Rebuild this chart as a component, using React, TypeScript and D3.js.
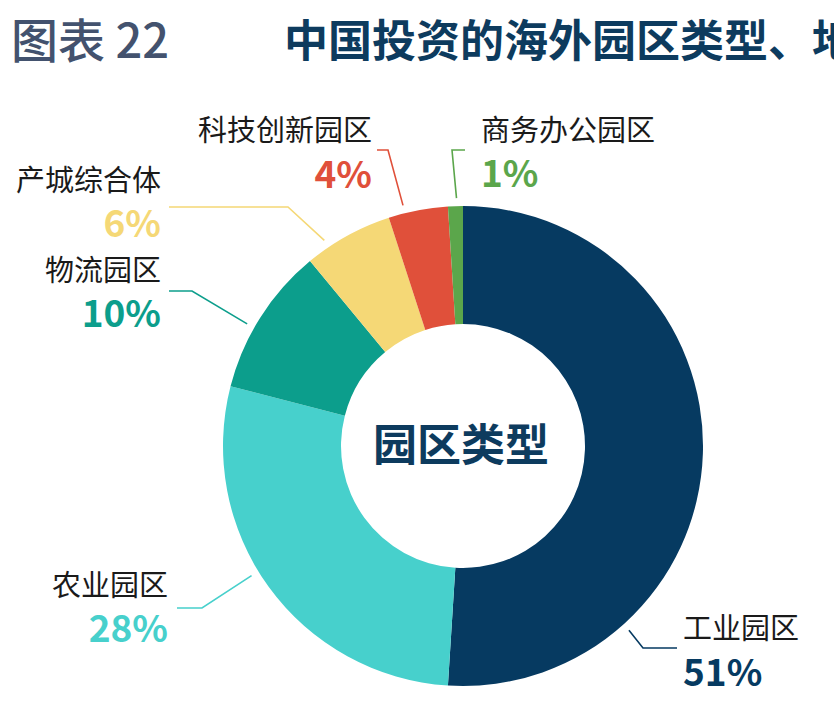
import React, { useRef, useEffect } from 'react';
import * as d3 from 'd3';

// 园区类型占比（%）
const categories = ['工业园区', '农业园区', '物流园区', '产城综合体', '科技创新园区', '商务办公园区'];
const shares = [51, 28, 10, 6, 4, 1];
const colors = ['#063a61', '#47d0cc', '#0c9e8c', '#f5d876', '#e0503a', '#5ba64b'];

// 标注布局：引线起点角度（度，顺时针自正上方），拐点，文字锚点
const labelLayout = [
  { angle: 138, elbow: [643, 648], end: [677, 648], x: 683, anchor: 'start', nameY: 639, valueY: 686 },
  { angle: 238.5, elbow: [202, 608], end: [177, 608], x: 168, anchor: 'end', nameY: 596, valueY: 642 },
  { angle: 299.5, elbow: [192, 291], end: [169, 291], x: 161, anchor: 'end', nameY: 281, valueY: 327 },
  { angle: 326, elbow: [288, 207], end: [169, 207], x: 161, anchor: 'end', nameY: 191, valueY: 237 },
  { angle: 346, elbow: [388, 150], end: [377, 150], x: 372, anchor: 'end', nameY: 141, valueY: 188 },
  { angle: 358.5, elbow: [452, 150], end: [465, 150], x: 481, anchor: 'start', nameY: 141, valueY: 187 },
];

const W = 834;
const H = 715;
const cx = 463;
const cy = 446;
const outerR = 240;
const innerR = 122;
const cjk = '"Noto Sans CJK SC", "Noto Sans", sans-serif';

export default function App() {
  const svgRef = useRef<SVGSVGElement>(null);

  useEffect(() => {
    if (!svgRef.current) return;
    const svg = d3.select(svgRef.current);
    svg.selectAll('*').remove();

    svg.append('rect').attr('width', W).attr('height', H).attr('fill', '#fff');

    // 标题
    svg.append('text')
      .attr('x', 11).attr('y', 58)
      .attr('font-family', cjk).attr('font-size', 47).attr('font-weight', 500)
      .attr('fill', '#43526e')
      .text('图表 22');
    svg.append('text')
      .attr('x', 284).attr('y', 57)
      .attr('font-family', cjk).attr('font-size', 44).attr('font-weight', 700)
      .attr('fill', '#0d3b5e')
      .text('中国投资的海外园区类型、地区分布');

    const data = categories.map((name, i) => ({ name, value: shares[i], color: colors[i] }));
    const pie = d3.pie<typeof data[number]>().sort(null).value(d => d.value).startAngle(0).endAngle(2 * Math.PI);
    const arc = d3.arc<d3.PieArcDatum<typeof data[number]>>().innerRadius(innerR).outerRadius(outerR);

    const g = svg.append('g').attr('transform', `translate(${cx},${cy})`);
    g.selectAll('path.slice')
      .data(pie(data))
      .join('path')
      .attr('class', 'slice')
      .attr('d', arc)
      .attr('fill', d => d.data.color);

    g.append('text')
      .attr('x', -2).attr('y', 15)
      .attr('text-anchor', 'middle')
      .attr('font-family', cjk).attr('font-size', 44).attr('font-weight', 700)
      .attr('fill', '#0d3b5e')
      .text('园区类型');

    // 引线与标签
    data.forEach((d, i) => {
      const l = labelLayout[i];
      const a = (l.angle * Math.PI) / 180;
      const r0 = outerR + 8;
      const start: [number, number] = [cx + r0 * Math.sin(a), cy - r0 * Math.cos(a)];
      const line = d3.line();
      svg.append('path')
        .attr('d', line([start, l.elbow as [number, number], l.end as [number, number]]))
        .attr('fill', 'none')
        .attr('stroke', d.color)
        .attr('stroke-width', 1.6);

      svg.append('text')
        .attr('x', l.x).attr('y', l.nameY)
        .attr('text-anchor', l.anchor)
        .attr('font-family', cjk).attr('font-size', 29)
        .attr('fill', '#1a1a1a')
        .text(d.name);
      svg.append('text')
        .attr('x', l.x).attr('y', l.valueY)
        .attr('text-anchor', l.anchor)
        .attr('font-family', cjk).attr('font-size', 37).attr('font-weight', 700)
        .attr('fill', d.color)
        .text(`${d.value}%`);
    });
  }, []);

  return (
    <svg
      ref={svgRef}
      width={W}
      height={H}
      style={{ position: 'absolute', left: 0, top: 0, display: 'block' }}
    />
  );
}
